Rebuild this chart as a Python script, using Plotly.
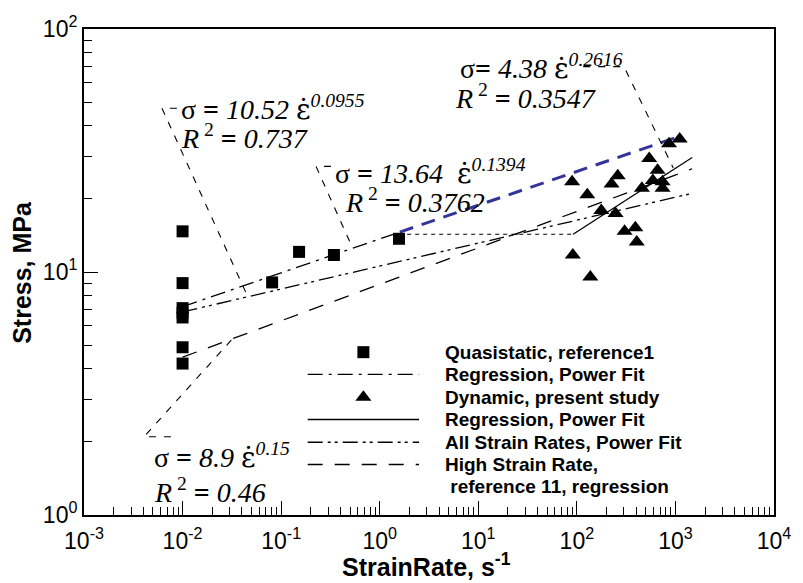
import plotly.graph_objects as go

# ---------------- data ----------------
qs_rate = [0.01, 0.01, 0.01, 0.01, 0.01, 0.01, 0.01, 0.081, 0.152, 0.343, 1.57]
qs_stress = [14.7, 9.0, 7.1, 6.8, 6.5, 4.9, 4.2, 9.06, 12.1, 11.75, 13.7]

dyn_rate = [89.5, 127.6, 260, 225, 542, 1105, 861, 659, 590, 740, 740, 457,
            177, 247, 305, 392, 405, 91, 137]
dyn_stress = [23.5, 20.8, 24.9, 23.0, 29.3, 35.3, 33.7, 26.2, 23.8, 23.5, 22.1, 22.1,
              17.9, 17.4, 14.7, 15.2, 13.3, 11.75, 9.54]

# regression lines (end points)
qs_fit_rate = [0.01, 1.6]
qs_fit_stress = [7.2, 14.6]
qs_ext_rate = [1.6, 1175]          # blue dashed extension
qs_ext_stress = [14.6, 36.5]
gap_rate = [1.9, 91.6]             # short dotted connector
gap_stress = [14.3, 14.3]
dyn_fit_rate = [91.6, 1480]
dyn_fit_stress = [14.3, 29.6]
all_fit_rate = [0.01, 1426]
all_fit_stress = [6.85, 21.0]
hsr_fit_rate = [0.01, 1480]
hsr_fit_stress = [4.46, 26.6]

# leader lines of the equation labels
lead1_rate = [0.00876, 0.00618, 0.0466]
lead1_stress = [47.2, 47.2, 7.8]
lead2_rate = [0.320, 0.226, 0.533]
lead2_stress = [27.2, 27.2, 12.5]
lead3_rate = [116, 301, 950]
lead3_stress = [70.0, 70.0, 26.8]
lead4_rate = [0.00762, 0.00407, 0.0314]
lead4_stress = [2.10, 2.10, 5.26]

x_tick_vals = [1e-3, 1e-2, 1e-1, 1e0, 1e1, 1e2, 1e3, 1e4]
x_tick_text = ["10<sup>-3</sup>", "10<sup>-2</sup>", "10<sup>-1</sup>", "10<sup>0</sup>",
               "10<sup>1</sup>", "10<sup>2</sup>", "10<sup>3</sup>", "10<sup>4</sup>"]
y_tick_vals = [1, 10, 100]
y_tick_text = ["10<sup>0</sup>", "10<sup>1</sup>", "10<sup>2</sup>"]

legend_labels = ["Quasistatic, reference1", "Regression, Power Fit",
                 "Dynamic, present study", "Regression, Power Fit",
                 "All Strain Rates, Power Fit", "High Strain Rate,",
                 " reference 11, regression"]

# ---------------- layout geometry ----------------
W, H = 803, 583
ML, MR, MT, MB = 84, 25, 24, 68
PW, PH = W - ML - MR, H - MT - MB


def px(xp):
    return (xp - ML) / PW


def py(yp):
    return (H - MB - yp) / PH


BLACK = "black"
DASHDOT = "15px,6px,3px,6px"
DASHDOTDOT = "15px,5px,3px,4px,3px,5px"
LONGDASH = "15px,12px"
LEADER = "7px,8px"

fig = go.Figure()


def line(xs, ys, dash, color=BLACK, width=1.3, xa="x", ya="y"):
    fig.add_trace(go.Scatter(x=xs, y=ys, mode="lines", xaxis=xa, yaxis=ya,
                             line=dict(color=color, width=width, dash=dash),
                             showlegend=False, hoverinfo="skip"))


# fit lines
line(hsr_fit_rate, hsr_fit_stress, LONGDASH)
line(all_fit_rate, all_fit_stress, DASHDOTDOT)
line(qs_fit_rate, qs_fit_stress, DASHDOT)
line(gap_rate, gap_stress, "4px,4px", width=1.1)
line(dyn_fit_rate, dyn_fit_stress, "solid", width=1.3)
line(qs_ext_rate, qs_ext_stress, "14px,9px", color="#34349a", width=3)

# leader lines
for lx, ly in [(lead1_rate, lead1_stress), (lead2_rate, lead2_stress),
               (lead3_rate, lead3_stress), (lead4_rate, lead4_stress)]:
    line(lx, ly, LEADER, width=1.1)

# data points
fig.add_trace(go.Scatter(x=qs_rate, y=qs_stress, mode="markers", showlegend=False,
                         marker=dict(symbol="square", size=12, color=BLACK, line=dict(width=0))))
fig.add_trace(go.Scatter(x=dyn_rate, y=dyn_stress, mode="markers", showlegend=False,
                         marker=dict(symbol="triangle-up", size=14, color=BLACK, line=dict(width=0))))

# ---------------- hand-built legend (overlay axes in paper units) ----------------
rows_px = [350.5, 373, 396, 418.5, 441.5, 464, 486]
rows = [py(r) for r in rows_px]
lx0, lx1, lxm = px(309), px(421), px(365)
fig.add_trace(go.Scatter(x=[lxm], y=[rows[0]], xaxis="x2", yaxis="y2", mode="markers",
                         showlegend=False, hoverinfo="skip",
                         marker=dict(symbol="square", size=12, color=BLACK, line=dict(width=0))))
line([lx0, lx1], [rows[1]] * 2, DASHDOT, xa="x2", ya="y2")
fig.add_trace(go.Scatter(x=[lxm], y=[rows[2]], xaxis="x2", yaxis="y2", mode="markers",
                         showlegend=False, hoverinfo="skip",
                         marker=dict(symbol="triangle-up", size=14, color=BLACK, line=dict(width=0))))
line([lx0, lx1], [rows[3]] * 2, "solid", xa="x2", ya="y2")
line([lx0, lx1], [rows[4]] * 2, DASHDOTDOT, xa="x2", ya="y2")
line([lx0, lx1], [rows[5]] * 2, LONGDASH, xa="x2", ya="y2")

annotations = []
for lab, r in zip(legend_labels, rows):
    annotations.append(dict(text="<b>" + lab + "</b>", x=px(445), y=r, xref="paper", yref="paper",
                            xanchor="left", yanchor="middle", showarrow=False,
                            font=dict(family="Liberation Sans, Arial", size=19, color=BLACK)))

# ---------------- equation labels ----------------
EQF = dict(family="Liberation Serif, Times New Roman", size=28, color=BLACK)
eps = "<span style=\"font-family:DejaVu Serif\">\u03b5\u0307</span>"
eqs = [
    ("\u03c3 <b>=</b> <i>10.52</i> " + eps + "<sup><i>0.0955</i></sup>", 180, 104),
    ("<i>R</i><sup> 2</sup> <b>=</b> <i>0.737</i>", 180, 133),
    ("\u03c3 <b>=</b> <i>13.64</i>  " + eps + "<sup><i>0.1394</i></sup>", 334, 168),
    ("<i>R</i><sup> 2</sup> <b>=</b> <i>0.3762</i>", 344, 197),
    ("\u03c3<b>=</b> <i>4.38</i> " + eps + "<sup><i>0.2616</i></sup>", 460, 62),
    ("<i>R</i><sup> 2</sup> <b>=</b> <i>0.3547</i>", 455, 92),
    ("\u03c3 <b>=</b> <i>8.9</i> " + eps + "<sup><i>0.15</i></sup>", 152, 455),
    ("<i>R</i><sup> 2</sup> <b>=</b> <i>0.46</i>", 152, 490),
]
for t, xp, yp in eqs:
    annotations.append(dict(text=t, x=px(xp), y=py(yp), xref="paper", yref="paper",
                            xanchor="left", yanchor="middle", showarrow=False, font=EQF))

# axis titles
TITLEF = dict(family="Liberation Sans, Arial", size=25, color=BLACK)
annotations.append(dict(text="<b>StrainRate, s<sup>-1</sup></b>", x=px(428), y=py(566),
                        xref="paper", yref="paper", xanchor="center", yanchor="middle",
                        showarrow=False, font=TITLEF))
annotations.append(dict(text="<b>Stress, MPa</b>", x=px(22), y=py(270), textangle=-90,
                        xref="paper", yref="paper", xanchor="center", yanchor="middle",
                        showarrow=False, font=TITLEF))

x_minor = [k * 10 ** d for d in range(-3, 4) for k in range(2, 10)]
y_minor = [k * 10 ** d for d in range(0, 2) for k in range(2, 10)]

TICKF = dict(family="Liberation Sans, Arial", size=23, color=BLACK)
fig.update_layout(
    width=W, height=H,
    margin=dict(l=ML, r=MR, t=MT, b=MB),
    paper_bgcolor="white", plot_bgcolor="white",
    showlegend=False,
    annotations=annotations,
    xaxis=dict(type="log", range=[-3, 4], showgrid=False, zeroline=False,
               showline=True, linecolor=BLACK, linewidth=2, mirror=True,
               ticks="inside", ticklen=14, tickwidth=1.3, tickcolor=BLACK,
               tickmode="array", tickvals=x_tick_vals, ticktext=x_tick_text,
               tickfont=TICKF, ticklabelstandoff=4,
               minor=dict(tickmode="array", tickvals=x_minor, ticks="inside", ticklen=8,
                          tickwidth=1.1, tickcolor=BLACK, showgrid=False)),
    yaxis=dict(type="log", range=[0, 2], showgrid=False, zeroline=False,
               showline=True, linecolor=BLACK, linewidth=2, mirror=True,
               ticks="inside", ticklen=14, tickwidth=1.3, tickcolor=BLACK,
               tickmode="array", tickvals=y_tick_vals, ticktext=y_tick_text,
               tickfont=TICKF,
               minor=dict(tickmode="array", tickvals=y_minor, ticks="inside", ticklen=8,
                          tickwidth=1.1, tickcolor=BLACK, showgrid=False)),
    xaxis2=dict(overlaying="x", anchor="y2", range=[0, 1], visible=False),
    yaxis2=dict(overlaying="y", anchor="x2", range=[0, 1], visible=False),
)

fig.write_html("out.html")
